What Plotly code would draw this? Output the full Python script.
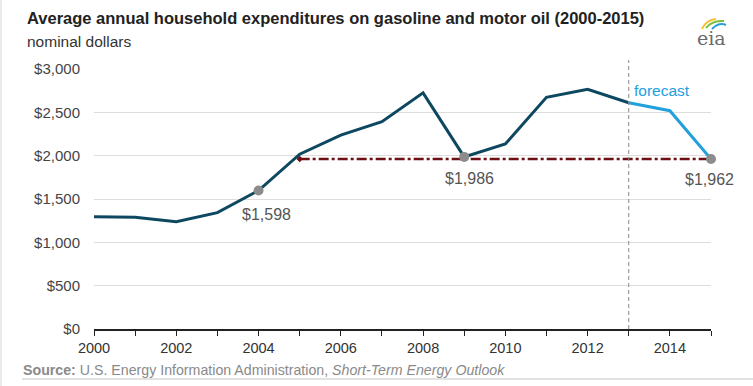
import plotly.graph_objects as go

# ---- data ----
years = [2000, 2001, 2002, 2003, 2004, 2005, 2006, 2007, 2008, 2009, 2010, 2011, 2012, 2013]
spend = [1296, 1289, 1238, 1342, 1598, 2017, 2238, 2392, 2725, 1986, 2135, 2673, 2765, 2611]
fc_years = [2013, 2014, 2015]
fc_spend = [2611, 2519, 1962]
mark_years = [2004, 2009, 2015]
mark_vals = [1598, 1986, 1962]
mark_labels = ["$1,598", "$1,986", "$1,962"]
ref_years = [2005, 2015]
ref_vals = [1962, 1962]
forecast_start = 2013
x_ticks = [2000, 2002, 2004, 2006, 2008, 2010, 2012, 2014]
y_ticks = [0, 500, 1000, 1500, 2000, 2500, 3000]
y_tick_text = ["$0", "$500", "$1,000", "$1,500", "$2,000", "$2,500", "$3,000"]

# ---- layout geometry (pixels) ----
WIDTH, HEIGHT = 753, 386
L, R, T, B = 94, 711, 69, 329
PW, PH = R - L, B - T


def px(x):
    return (x - L) / PW


def py(y):
    return (B - y) / PH


DARK = "#0d4860"
LIGHT = "#22a0dc"
GREY = "#8c8c8c"
RED = "#6e0f14"
FONT = "Liberation Sans, Arial, sans-serif"

fig = go.Figure()

fig.add_trace(go.Scatter(x=years, y=spend, mode="lines", cliponaxis=False,
                         line=dict(color=DARK, width=3), hoverinfo="skip"))
fig.add_trace(go.Scatter(x=fc_years, y=fc_spend, mode="lines", cliponaxis=False,
                         line=dict(color=LIGHT, width=3), hoverinfo="skip"))
fig.add_trace(go.Scatter(x=ref_years, y=ref_vals, mode="lines+markers", cliponaxis=False,
                         line=dict(color=RED, width=2.5, dash="10px,3px,3px,3px"),
                         marker=dict(symbol="diamond", size=5, color=RED),
                         hoverinfo="skip"))
fig.add_trace(go.Scatter(x=mark_years, y=mark_vals, mode="markers", cliponaxis=False,
                         marker=dict(color=GREY, size=10), hoverinfo="skip"))

annotations = []
shifts = [(8, -24), (5, -22), (-2, -21)]
for xv, yv, t, (dx, dy) in zip(mark_years, mark_vals, mark_labels, shifts):
    annotations.append(dict(x=xv, y=yv, text=t, showarrow=False, xshift=dx, yshift=dy,
                            font=dict(family=FONT, size=16, color="#555555")))

annotations.append(dict(x=forecast_start, y=py(90), yref="paper", text="forecast",
                        showarrow=False, xanchor="left", yanchor="middle", xshift=3,
                        font=dict(family=FONT, size=15.5, color=LIGHT)))

annotations.append(dict(x=px(25), y=py(18), xref="paper", yref="paper",
                        text="<b>Average annual household expenditures on gasoline and motor oil (2000-2015)</b>",
                        showarrow=False, xanchor="left", yanchor="middle",
                        font=dict(family=FONT, size=16.5, color="#222222")))
annotations.append(dict(x=px(25), y=py(42), xref="paper", yref="paper",
                        text="nominal dollars", showarrow=False, xanchor="left", yanchor="middle",
                        font=dict(family=FONT, size=15.5, color="#333333")))
annotations.append(dict(x=px(21), y=py(370), xref="paper", yref="paper",
                        text="<b>Source:</b> U.S. Energy Information Administration, <i>Short-Term Energy Outlook</i>",
                        showarrow=False, xanchor="left", yanchor="middle",
                        font=dict(family=FONT, size=14.2, color="#8a8a8a")))
annotations.append(dict(x=px(711), y=py(38), xref="paper", yref="paper",
                        text="eia", showarrow=False, xanchor="center", yanchor="middle",
                        font=dict(family="DejaVu Serif, serif", size=19, color="#6a6a6a")))


def path(points):
    s = "M %f,%f" % (px(points[0][0]), py(points[0][1]))
    s += " Q %f,%f %f,%f" % (px(points[1][0]), py(points[1][1]), px(points[2][0]), py(points[2][1]))
    return s


shapes = [
    dict(type="line", xref="x", yref="paper", x0=forecast_start, x1=forecast_start,
         y0=0, y1=py(60), line=dict(color="#8a8a8a", width=1, dash="4px,3px")),
    dict(type="line", xref="paper", yref="paper", x0=px(22), x1=px(753), y0=py(379), y1=py(379),
         line=dict(color="#d9d9d9", width=1.5)),
    dict(type="line", xref="paper", yref="paper", x0=px(1), x1=px(1), y0=py(0), y1=py(386),
         line=dict(color="#e3e3e3", width=1.5)),
    dict(type="path", xref="paper", yref="paper", path=path([(702, 29), (706, 20), (716, 19)]),
         line=dict(color="#f2c230", width=2)),
    dict(type="path", xref="paper", yref="paper", path=path([(706, 28), (712, 20), (724, 21)]),
         line=dict(color="#7cbd3c", width=2)),
    dict(type="path", xref="paper", yref="paper", path=path([(712, 29), (719, 22), (726, 25)]),
         line=dict(color="#2aa0d8", width=2)),
]

fig.update_layout(
    width=WIDTH, height=HEIGHT,
    margin=dict(l=L, r=WIDTH - R, t=T, b=HEIGHT - B, pad=0),
    paper_bgcolor="white", plot_bgcolor="white",
    showlegend=False, hovermode=False,
    font=dict(family=FONT, size=14, color="#333333"),
    annotations=annotations, shapes=shapes,
    xaxis=dict(range=[2000, 2015], tickvals=x_ticks, ticks="outside", ticklen=5,
               tickcolor="#222222", showline=True, linecolor="#222222", linewidth=1.5,
               showgrid=False, zeroline=False, fixedrange=True, automargin=False,
               tickfont=dict(family=FONT, size=14.5, color="#333333"),
               minor=dict(dtick=1, tick0=2000, ticks="outside", ticklen=5, tickcolor="#222222",
                          showgrid=False)),
    yaxis=dict(range=[0, 3000], tickvals=y_ticks, ticktext=y_tick_text,
               showgrid=True, gridcolor="#dddddd", gridwidth=1, zeroline=False,
               showline=False, ticks="", ticklabelstandoff=13, fixedrange=True, automargin=False,
               tickfont=dict(family=FONT, size=15, color="#444444")),
)

fig.write_html("out.html", config={"displayModeBar": False, "staticPlot": True},
               post_script="document.body.style.margin='0';document.body.style.overflow='hidden';")
